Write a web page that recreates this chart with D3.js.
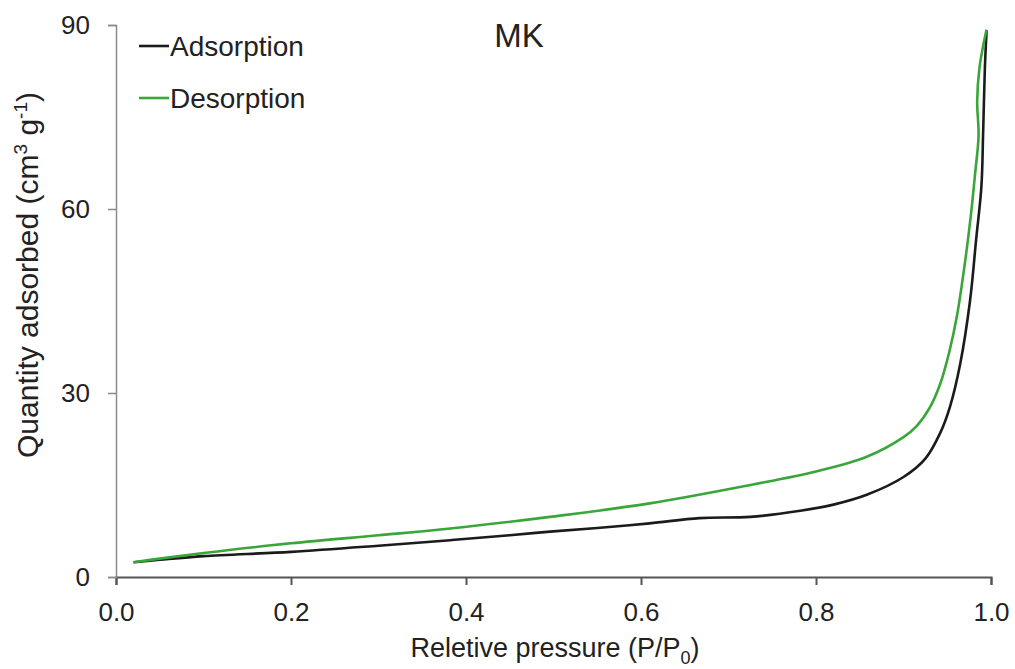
<!DOCTYPE html>
<html>
<head>
<meta charset="utf-8">
<script src="https://cdn.jsdelivr.net/npm/d3@7"></script>
<style>
  html, body { margin: 0; padding: 0; background: #fff; }
  svg { display: block; font-family: "Liberation Sans", Arial, sans-serif; }
</style>
</head>
<body>
<svg id="chart" width="1015" height="669"></svg>
<script>
// ---- data ----
const adsP = [0.02, 0.05, 0.1, 0.2, 0.3, 0.382, 0.45, 0.496, 0.55, 0.61, 0.667, 0.725, 0.782, 0.82, 0.858, 0.9, 0.925, 0.942, 0.953, 0.965, 0.976, 0.983, 0.989, 0.991, 0.993, 0.995];
const adsV = [2.4, 2.8, 3.4, 4.1, 5.1, 6.0, 6.8, 7.4, 8.0, 8.75, 9.6, 9.8, 10.8, 11.8, 13.4, 16.3, 19.3, 23.5, 27.7, 34.9, 45.0, 55.0, 63.6, 72.4, 83.0, 89.2];
const desP = [0.02, 0.05, 0.1, 0.2, 0.3, 0.382, 0.496, 0.61, 0.725, 0.8, 0.858, 0.9, 0.915, 0.93, 0.942, 0.952, 0.961, 0.97, 0.977, 0.982, 0.9858, 0.9842, 0.9868, 0.993, 0.995];
const desV = [2.4, 3.0, 3.9, 5.5, 6.8, 7.9, 9.8, 12.0, 15.0, 17.2, 19.6, 22.8, 24.6, 27.6, 31.5, 36.5, 42.5, 51.0, 59.0, 66.0, 72.0, 77.5, 83.0, 88.0, 89.2];
const xTicks = [0.0, 0.2, 0.4, 0.6, 0.8, 1.0];
const yTicks = [0, 30, 60, 90];
const seriesNames = ["Adsorption", "Desorption"];
const seriesColors = ["#1b1b1b", "#3aa63a"];
const chartTitle = "MK";

// ---- layout ----
const svg = d3.select("#chart");
const x = d3.scaleLinear().domain([0, 1]).range([116, 991]);
const y = d3.scaleLinear().domain([0, 90]).range([577, 25]);

// axes
const xAxis = d3.axisBottom(x).tickValues(xTicks).tickFormat(d3.format(".1f"))
  .tickSize(8).tickSizeOuter(8).tickPadding(18);
const yAxis = d3.axisLeft(y).tickValues(yTicks).tickFormat(d3.format("d"))
  .tickSize(8).tickSizeOuter(8).tickPadding(18);

const gx = svg.append("g").attr("transform", "translate(0,577)").call(xAxis);
gx.select(".domain").attr("stroke", "#555").attr("stroke-width", 2);
gx.selectAll(".tick line").attr("stroke", "#555").attr("stroke-width", 2);
gx.selectAll(".tick text").attr("font-size", 26).attr("fill", "#222")
  .attr("font-family", "Liberation Sans, Arial, sans-serif");

const gy = svg.append("g").attr("transform", "translate(116,0)").call(yAxis);
gy.select(".domain").attr("stroke", "#8a8a8a").attr("stroke-width", 1.5);
gy.selectAll(".tick line").attr("stroke", "#8a8a8a").attr("stroke-width", 1.5);
gy.selectAll(".tick text").attr("font-size", 26).attr("fill", "#222")
  .attr("font-family", "Liberation Sans, Arial, sans-serif");

// lines
const line = d3.line().x(d => x(d[0])).y(d => y(d[1])).curve(d3.curveCatmullRom.alpha(0.5));
const ads = adsP.map((p, i) => [p, adsV[i]]);
const des = desP.map((p, i) => [p, desV[i]]);

svg.append("path").datum(ads).attr("d", line).attr("fill", "none")
  .attr("stroke", seriesColors[0]).attr("stroke-width", 2.6).attr("stroke-linejoin", "round");
svg.append("path").datum(des).attr("d", line).attr("fill", "none")
  .attr("stroke", seriesColors[1]).attr("stroke-width", 2.6).attr("stroke-linejoin", "round");

// legend
const legY = [46, 98];
seriesNames.forEach((n, i) => {
  svg.append("line").attr("x1", 139).attr("x2", 169).attr("y1", legY[i]).attr("y2", legY[i])
    .attr("stroke", seriesColors[i]).attr("stroke-width", 2.6);
  svg.append("text").attr("x", 170).attr("y", legY[i] + 9.5).attr("font-size", 28)
    .attr("fill", "#222").text(n);
});

// title
svg.append("text").attr("x", 519).attr("y", 47).attr("text-anchor", "middle")
  .attr("font-size", 33).attr("fill", "#222").text(chartTitle);

// x label
const xl = svg.append("text").attr("x", 555).attr("y", 657).attr("text-anchor", "middle")
  .attr("font-size", 27).attr("fill", "#222");
xl.append("tspan").text("Reletive pressure  (P/P");
xl.append("tspan").attr("font-size", 18).attr("dy", 7).text("0");
xl.append("tspan").attr("dy", -7).text(")");

// y label
const yl = svg.append("text").attr("transform", "translate(38,275) rotate(-90)")
  .attr("text-anchor", "middle").attr("font-size", 30).attr("fill", "#222");
yl.append("tspan").text("Quantity adsorbed (cm");
yl.append("tspan").attr("font-size", 19).attr("dy", -11).text("3");
yl.append("tspan").attr("dy", 11).text(" g");
yl.append("tspan").attr("font-size", 19).attr("dy", -11).text("-1");
yl.append("tspan").attr("dy", 11).text(")");
</script>
</body>
</html>
